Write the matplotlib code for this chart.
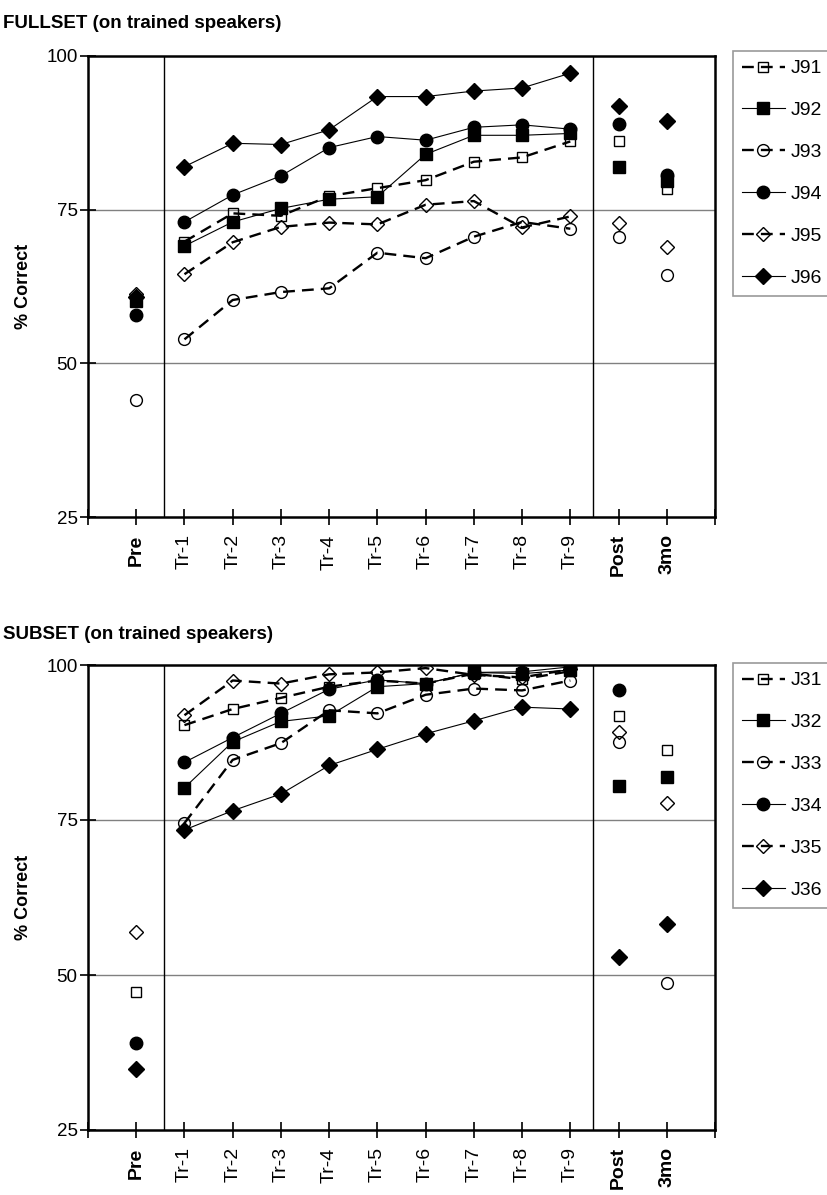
import numpy as np
import matplotlib
matplotlib.use("Agg")
import matplotlib.pyplot as plt

plt.rcParams['font.family'] = ['Liberation Sans', 'DejaVu Sans']

cats = ['Pre', 'Tr-1', 'Tr-2', 'Tr-3', 'Tr-4', 'Tr-5', 'Tr-6', 'Tr-7', 'Tr-8', 'Tr-9', 'Post', '3mo']
bold_cats = ['Pre', 'Post', '3mo']
nan = np.nan

# FULLSET
full_names = ['J91', 'J92', 'J93', 'J94', 'J95', 'J96']
J91 = [60.3, 69.8, 74.4, 74.0, 77.2, 78.5, 79.8, 82.8, 83.5, 86.1, 86.2, 78.4]
J92 = [60.2, 69.1, 73.0, 75.2, 76.7, 77.1, 84.0, 87.1, 87.1, 87.4, 82.0, 79.6]
J93 = [44.0, 53.9, 60.3, 61.6, 62.2, 68.0, 67.1, 70.6, 73.0, 71.9, 70.6, 64.4]
J94 = [57.9, 73.0, 77.4, 80.5, 85.1, 86.9, 86.3, 88.4, 88.8, 88.1, 89.0, 80.6]
J95 = [61.3, 64.5, 69.7, 72.2, 72.9, 72.6, 75.8, 76.4, 72.1, 73.9, 72.8, 69.0]
J96 = [60.8, 82.0, 85.8, 85.6, 88.0, 93.4, 93.4, 94.3, 94.8, 97.2, 91.8, 89.5]
full_data = [J91, J92, J93, J94, J95, J96]

# SUBSET
sub_names = ['J31', 'J32', 'J33', 'J34', 'J35', 'J36']
J31 = [47.3, 90.3, 92.9, 94.7, 96.5, 97.5, 97.0, 98.6, 97.7, 99.0, 91.8, 86.3]
J32 = [nan, 80.2, 87.6, 90.9, 91.8, 96.5, 97.0, 98.8, 98.6, 99.2, 80.5, 82.0]
J33 = [nan, 74.5, 84.7, 87.4, 92.7, 92.2, 95.2, 96.2, 95.9, 97.5, 87.6, 48.7]
J34 = [39.0, 84.3, 88.3, 92.2, 96.1, 97.6, 97.0, 98.8, 98.9, 99.7, 96.0, nan]
J35 = [56.9, 91.9, 97.5, 97.0, 98.5, 98.8, 99.5, 98.4, 98.0, 99.3, 89.2, 77.8]
J36 = [34.8, 73.4, 76.5, 79.2, 83.8, 86.4, 88.9, 91.0, 93.2, 92.9, 52.9, 58.3]
sub_data = [J31, J32, J33, J34, J35, J36]

yticks = [25, 50, 75, 100]

# styles per series index (same pattern in both panels)
styles = [
    dict(marker='s', ms=7, mfc='none', ls=(0, (5, 3)), lw=1.7),
    dict(marker='s', ms=8, mfc='black', ls='-', lw=0.8),
    dict(marker='o', ms=8.5, mfc='none', ls=(0, (5, 3)), lw=1.7),
    dict(marker='o', ms=9, mfc='black', ls='-', lw=0.8),
    dict(marker='D', ms=7, mfc='none', ls=(0, (5, 3)), lw=1.7),
    dict(marker='D', ms=8, mfc='black', ls='-', lw=0.8),
]

fig = plt.figure(figsize=(8.27, 11.95), dpi=100)
W, H = 827, 1195


def make_panel(rect, names, data, title, title_y, legend_top):
    ax = fig.add_axes(rect)
    x = np.arange(1, len(cats) + 1)
    handles = []
    for i, (nm, vals) in enumerate(zip(names, data)):
        st = styles[i]
        v = np.array(vals, dtype=float)
        tr = slice(1, 10)
        h, = ax.plot(x[tr], v[tr], color='black', linestyle=st['ls'], lw=st['lw'],
                     marker=st['marker'], ms=st['ms'], mfc=st['mfc'], mec='black',
                     mew=1.0, label=nm, zorder=3 + i)
        idx = [0, 10, 11]
        ax.plot(x[idx], v[idx], linestyle='none', marker=st['marker'], ms=st['ms'],
                mfc=st['mfc'], mec='black', mew=1.0, zorder=3 + i)
        handles.append(h)
    ax.set_xlim(0, 13)
    ax.set_ylim(25, 100)
    ax.set_yticks(yticks)
    ax.set_yticklabels([str(t) for t in yticks], fontsize=13.5)
    ax.set_xticks(np.arange(0, 14))
    ax.set_xticklabels([''] + cats + [''], rotation=90, fontsize=14)
    for lab in ax.get_xticklabels():
        if lab.get_text() in bold_cats:
            lab.set_fontweight('bold')
    ax.tick_params(axis='both', direction='inout', length=11, width=1.2, color='black')
    ax.tick_params(axis='x', pad=7)
    ax.tick_params(axis='y', pad=2)
    for sp in ax.spines.values():
        sp.set_linewidth(1.8)
        sp.set_color('black')
    for yv in [50, 75]:
        ax.axhline(yv, color='#808080', lw=1.0, zorder=1)
    for xv in [1.58, 10.47]:
        ax.axvline(xv, color='black', lw=1.0, zorder=1)
    ax.set_ylabel('% Correct', fontsize=13, fontweight='bold', labelpad=10)
    fig.text(3 / W, 1 - title_y / H, title, fontsize=13.5, fontweight='bold',
             ha='left', va='baseline')
    leg = fig.legend(handles=handles, loc='upper left',
                     bbox_to_anchor=(733 / W, 1 - legend_top / H),
                     bbox_transform=fig.transFigure, borderaxespad=0,
                     fontsize=14, frameon=True, fancybox=False, edgecolor='#808080',
                     handlelength=2.2, handletextpad=0.3, labelspacing=1.25,
                     borderpad=0.45)
    leg.get_frame().set_linewidth(1.2)
    return ax


left = 88 / W
width = (715 - 88) / W
make_panel([left, 1 - 517 / H, width, (517 - 56) / H], full_names, full_data,
           'FULLSET (on trained speakers)', 28, 51)
make_panel([left, 1 - 1130 / H, width, (1130 - 665) / H], sub_names, sub_data,
           'SUBSET (on trained speakers)', 639, 663)

fig.savefig('out.png', dpi=100)
